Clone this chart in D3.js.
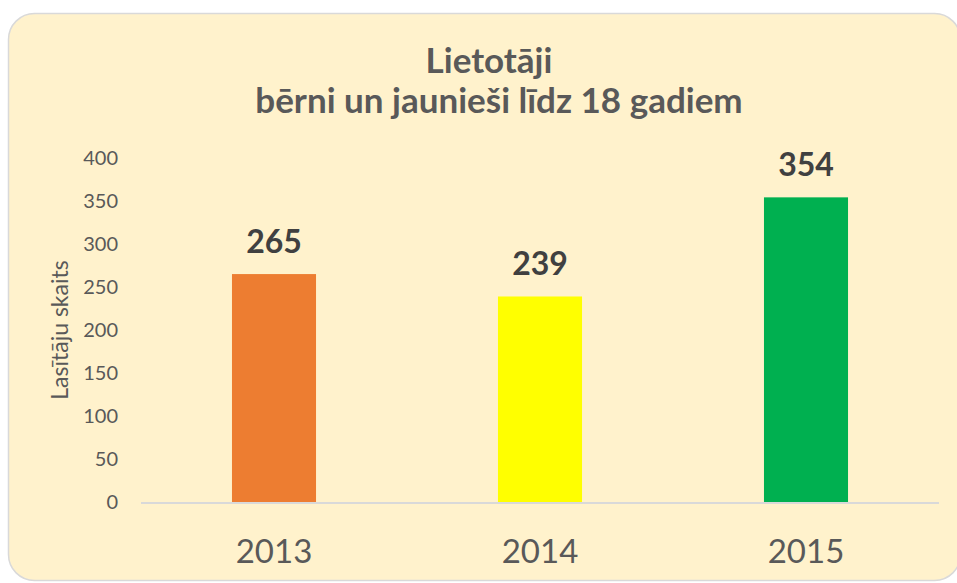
<!DOCTYPE html>
<meta charset="utf-8">
<style>
body { margin: 0; background: #fff; }
text { font-family: Lato, "Open Sans", sans-serif; fill: #595959; }
</style>
<svg width="957" height="583"></svg>
<script src="https://d3js.org/d3.v7.min.js"></script>
<script>

var years = ["2013", "2014", "2015"];
var values = [265, 239, 354];
var colors = ["#ED7D31", "#FFFF00", "#00B050"];
var yTicks = [0, 50, 100, 150, 200, 250, 300, 350, 400];
var titleLines = ["Lietotāji", "bērni un jaunieši līdz 18 gadiem"];
var yTitle = "Lasītāju skaits";

var svg = d3.select("svg");

// chart panel
svg.append("rect")
    .attr("x", 8.5).attr("y", 13.5)
    .attr("width", 952).attr("height", 567)
    .attr("rx", 26)
    .attr("fill", "#FFF2CC")
    .attr("stroke", "#D9D9D9")
    .attr("stroke-width", 1.5);

var x = d3.scaleBand()
    .domain(years)
    .range([141, 939])
    .paddingInner(0.684)
    .paddingOuter(0.342);

var y = d3.scaleLinear()
    .domain([0, 400])
    .range([502.5, 157.7]);

// title
svg.append("g").selectAll("text")
    .data(titleLines)
    .enter().append("text")
    .attr("x", function(d, i) { return i ? 499 : 489; })
    .attr("y", function(d, i) { return 73 + i * 40; })
    .attr("text-anchor", "middle")
    .style("font-size", "35px")
    .style("font-weight", "bold")
    .text(function(d) { return d; });

// y axis labels
var yAxis = svg.append("g")
    .attr("transform", "translate(118,0)")
    .call(d3.axisLeft(y).tickValues(yTicks).tickSize(0).tickPadding(0));
yAxis.select(".domain").remove();
yAxis.selectAll("text")
    .style("font-size", "20px")
    .style("font-family", "Lato, sans-serif")
    .attr("fill", "#595959");

svg.append("text")
    .attr("transform", "translate(68,330) rotate(-90)")
    .attr("text-anchor", "middle")
    .style("font-size", "23px")
    .text(yTitle);

// bars
svg.append("g").selectAll("rect")
    .data(values)
    .enter().append("rect")
    .attr("x", function(d, i) { return x(years[i]); })
    .attr("y", function(d) { return y(d); })
    .attr("width", x.bandwidth())
    .attr("height", function(d) { return y(0) - y(d); })
    .attr("fill", function(d, i) { return colors[i]; });

// baseline
svg.append("line")
    .attr("x1", 141).attr("x2", 939)
    .attr("y1", y(0) + 0.5).attr("y2", y(0) + 0.5)
    .attr("stroke", "#D9D9D9")
    .attr("stroke-width", 2);

// value labels
svg.append("g").selectAll("text")
    .data(values)
    .enter().append("text")
    .attr("x", function(d, i) { return x(years[i]) + x.bandwidth() / 2; })
    .attr("y", function(d) { return y(d) - 21; })
    .attr("text-anchor", "middle")
    .style("font-size", "32px")
    .style("font-weight", "bold")
    .style("fill", "#404040")
    .text(function(d) { return d; });

// x axis labels
var xAxis = svg.append("g")
    .attr("transform", "translate(0," + y(0) + ")")
    .call(d3.axisBottom(x).tickSize(0).tickPadding(0));
xAxis.select(".domain").remove();
xAxis.selectAll("text")
    .attr("dy", null)
    .attr("y", 60)
    .style("font-size", "33px")
    .style("font-family", "Lato, sans-serif")
    .attr("fill", "#595959");

</script>
